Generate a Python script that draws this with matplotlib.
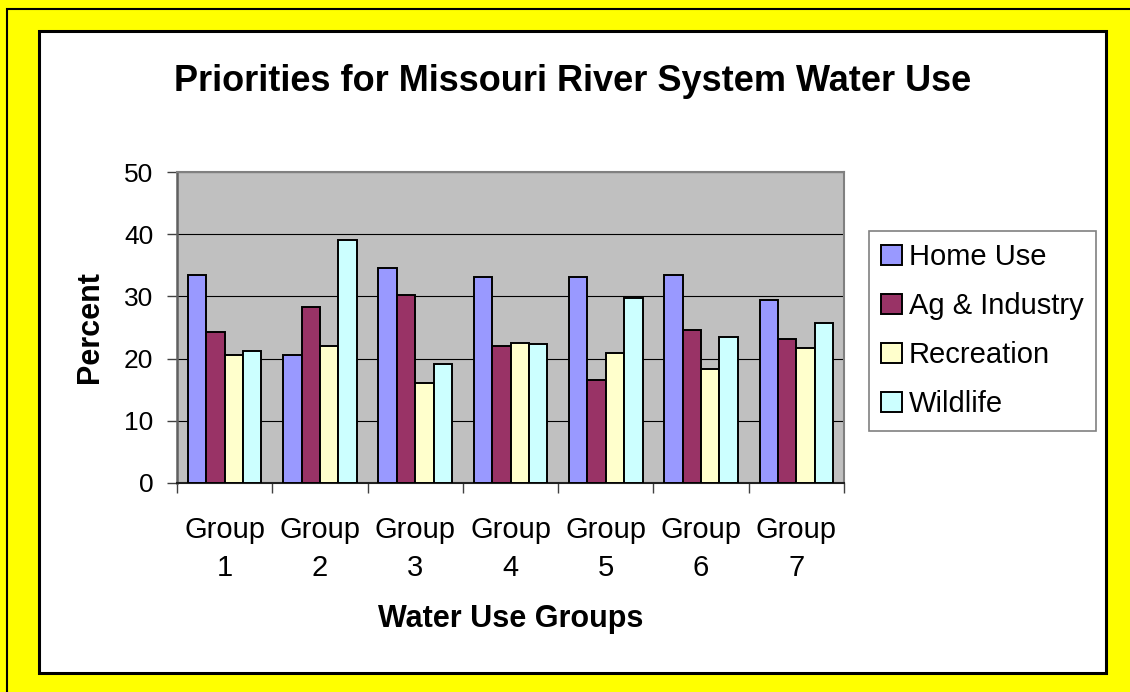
import matplotlib.pyplot as plt
import numpy as np
from matplotlib.patches import Patch, Rectangle

plt.rcParams["font.family"] = ["Liberation Sans", "DejaVu Sans"]

groups = ["Group\n1", "Group\n2", "Group\n3", "Group\n4", "Group\n5", "Group\n6", "Group\n7"]
series = ["Home Use", "Ag & Industry", "Recreation", "Wildlife"]
home_use = [33.4, 20.6, 34.6, 33.1, 33.1, 33.5, 29.4]
ag_industry = [24.2, 28.3, 30.2, 22.0, 16.6, 24.6, 23.2]
recreation = [20.5, 22.1, 16.1, 22.5, 20.9, 18.3, 21.7]
wildlife = [21.3, 39.0, 19.1, 22.4, 29.8, 23.5, 25.8]
colors = ["#9999FF", "#993366", "#FFFFCC", "#CCFFFF"]

W, H = 1130, 692
fig = plt.figure(figsize=(W / 100, H / 100), dpi=100)
fig.patch.set_facecolor("#FFFF00")

# outer border and white chart area, kept behind the axes
fig.patches.append(Rectangle((7 / W, -0.5), 1.0, 1.5 - 9 / H, transform=fig.transFigure,
                             facecolor="none", edgecolor="black", lw=1.5, zorder=-2))
fig.patches.append(Rectangle((39 / W, 1 - 673 / H), (1106 - 39) / W, (673 - 31) / H,
                             transform=fig.transFigure, facecolor="white",
                             edgecolor="black", lw=2.2, zorder=-1))

ax = fig.add_axes([177 / W, 1 - 483 / H, (844 - 177) / W, (483 - 172) / H])
ax.set_facecolor("#C0C0C0")

x = np.arange(len(groups))
w = 0.193
for i, (name, vals) in enumerate(zip(series, [home_use, ag_industry, recreation, wildlife])):
    ax.bar(x + (i - 1.5) * w, vals, width=w, color=colors[i], edgecolor="black",
           linewidth=1.4, label=name, zorder=3)

ax.set_xlim(-0.5, len(groups) - 0.5)
ax.set_ylim(0, 50)
ax.set_yticks(range(0, 51, 10))
ax.yaxis.grid(True, color="black", lw=0.8, zorder=1)
ax.tick_params(axis="y", direction="out", length=7, width=1, color="#404040",
               labelsize=19, pad=10)

# tick marks sit between groups, labels under each group
ax.set_xticks(np.arange(-0.5, len(groups), 1.0))
ax.set_xticklabels([])
ax.set_xticks(x, minor=True)
ax.set_xticklabels(groups, minor=True, fontsize=21, linespacing=1.42)
ax.tick_params(axis="x", which="major", direction="out", length=7, width=1, color="#404040")
ax.tick_params(axis="x", which="minor", length=0, pad=24)

for side in ["top", "right"]:
    ax.spines[side].set_color("#808080")
    ax.spines[side].set_linewidth(1.5)
ax.spines["left"].set_color("#606060")
ax.spines["left"].set_linewidth(1.8)
ax.spines["bottom"].set_color("#202020")
ax.spines["bottom"].set_linewidth(1.5)

ax.set_ylabel("Percent", fontsize=22, fontweight="bold", va="center")
ax.yaxis.set_label_coords((89.5 - 177) / (844 - 177), 0.5)
ax.set_xlabel("Water Use Groups", fontsize=22, fontweight="bold", va="baseline")
ax.xaxis.set_label_coords(0.5, -(627 - 483) / (483 - 172))

fig.text(573 / W, 1 - 91 / H, "Priorities for Missouri River System Water Use",
         ha="center", va="baseline", fontsize=26, fontweight="bold")

handles = [Patch(facecolor=c, edgecolor="black", linewidth=1.4) for c in colors]
leg = ax.legend(handles, series, loc="upper left", bbox_to_anchor=(869 / W, 1 - 231 / H),
                bbox_transform=fig.transFigure, fontsize=21, frameon=True, fancybox=False,
                edgecolor="#808080", framealpha=1, handlelength=0.7, handleheight=0.7,
                handletextpad=0.25, labelspacing=0.72, borderpad=0.42, borderaxespad=0)
leg.get_frame().set_linewidth(1.2)

fig.savefig("out.png", dpi=100, facecolor=fig.get_facecolor())
